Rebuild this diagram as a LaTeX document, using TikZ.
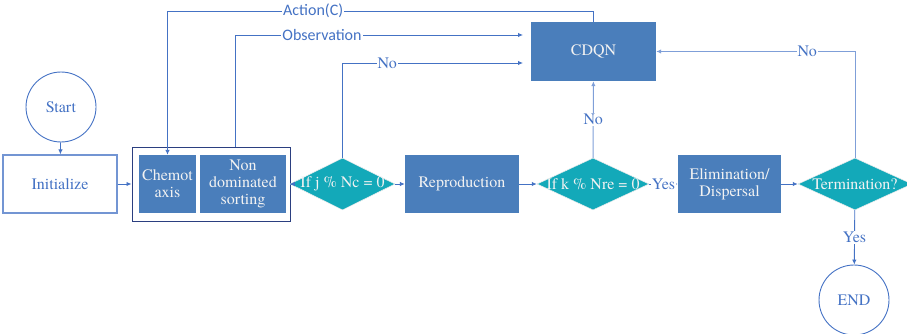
\documentclass[tikz,border=0pt]{standalone}
\usepackage{fontspec}
\setmainfont{TeX Gyre Termes}
\newfontfamily\serifface{TeX Gyre Termes}
\newfontfamily\labelsans{Carlito}
\usetikzlibrary{shapes.geometric,arrows.meta}
\definecolor{boxblue}{HTML}{4A7EBB}
\definecolor{diateal}{HTML}{13A9B9}
\definecolor{linkblue}{HTML}{4472C4}
\definecolor{lightlink}{HTML}{7F9FD8}
\definecolor{framenavy}{HTML}{2B3F80}
\definecolor{boxtext}{HTML}{F2F2F2}
\begin{document}
\begin{tikzpicture}[x=1pt,y=-1pt,
  font=\serifface\fontsize{16}{17}\selectfont,
  proc/.style={rectangle, fill=boxblue, text=boxtext, inner sep=0pt, align=center},
  decision/.style={diamond, fill=diateal, draw=white!85!gray, line width=0.5pt, inner sep=0pt},
  dtext/.style={text=boxtext, inner sep=0pt},
  terminal/.style={circle, draw=linkblue, line width=0.9pt, text=linkblue, minimum size=70pt, inner sep=0pt},
  link/.style={draw=linkblue, line width=0.9pt, -{Latex[length=5pt,width=4.5pt]}},
  softlink/.style={draw=lightlink, line width=1pt, -{Latex[length=5pt,width=4.5pt]}},
  tag/.style={fill=white, text=linkblue, inner sep=1pt},
  sanstag/.style={fill=white, text=linkblue, inner sep=1pt, font=\labelsans\fontsize{16}{17}\selectfont}]
\useasboundingbox (0,0) rectangle (907,334);

% terminals
\node[terminal] (start) at (61,107) {Start};
\node[terminal] (end) at (854,300) {END};

% initialisation
\node[rectangle, draw=linkblue!75, line width=1.2pt, text=linkblue,
      minimum width=114pt, minimum height=58pt] (init) at (60,184) {Initialize};

% chemotaxis group
\node[rectangle, draw=framenavy, line width=1pt, minimum width=158pt, minimum height=74pt] (outer) at (211,184) {};
\node[proc, minimum width=57pt, minimum height=58pt] (chem) at (167.5,184) {Chemot\\axis};
\node[proc, minimum width=86pt, minimum height=58pt] (nds) at (243,184) {Non\\dominated\\sorting};

% main row
\node[decision, minimum width=105pt, minimum height=52pt] (d1) at (342.5,184) {};
\node[dtext] (d1t) at (d1.center) {If j \% Nc = 0};
\node[proc, minimum width=114pt, minimum height=58pt] (repro) at (462,184) {Reproduction};
\node[decision, minimum width=112pt, minimum height=52pt] (d2) at (593,184) {};
\node[dtext] (d2t) at (d2.center) {If k \% Nre = 0};
\node[proc, minimum width=103pt, minimum height=58pt] (elim) at (729.5,184) {Elimination/\\Dispersal};
\node[decision, minimum width=114pt, minimum height=52pt] (d3) at (855,184) {};
\node[dtext] (d3t) at (d3.center) {Termination?};

% agent
\node[proc, minimum width=125pt, minimum height=59pt] (cdqn) at (593.5,51.5) {CDQN};

% entry points left of the agent box
\coordinate (obsIn) at (523,35);
\coordinate (noIn) at (523,63);
\coordinate (obsFoot) at (235,147);
\coordinate (actTop) at (593.5,11);

% flow along the main row
\draw[link] (start) -- (init);
\draw[link] (init) -- (outer);
\draw[link] (outer) -- (d1);
\draw[link] (d1) -- (repro);
\draw[link] (repro) -- (d2);
\draw[link] (d2) -- node[tag] {Yes} (elim);
\draw[link] (elim) -- (d3);
\draw[link] (d3) -- node[tag] {Yes} (end);

% feedback to and from the agent
\draw[softlink] (d2) -- node[tag] {No} (cdqn);
\draw[softlink] (d3.north) |- node[tag, pos=0.62] {No} (cdqn.east);
\draw[link] (d1.north) |- node[tag, pos=0.624] {No} (noIn);
\draw[link] (obsFoot) |- node[sanstag, pos=0.651] {Observation} (obsIn);
\draw[link] (cdqn.north) -- (actTop) -| node[sanstag, pos=0.329] {Action(C)} (chem.north);
\end{tikzpicture}
\end{document}
